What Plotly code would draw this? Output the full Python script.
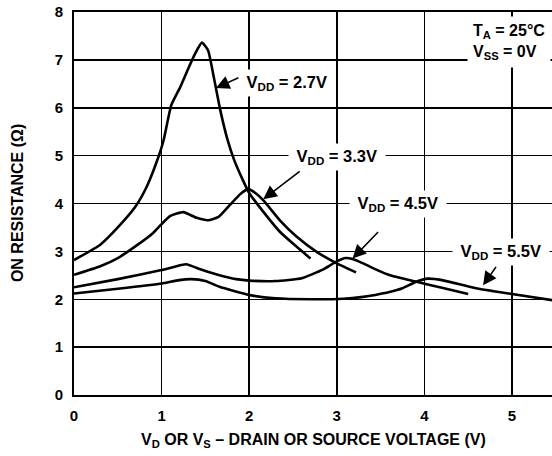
import plotly.graph_objects as go

# ---- data ----
x_27 = [0, 0.3, 0.5, 0.7, 0.83, 0.94, 1.02, 1.11, 1.21, 1.3, 1.38, 1.46, 1.53, 1.6, 1.67, 1.75, 1.83, 1.92, 2.0, 2.16, 2.35, 2.54, 2.7]
y_27 = [2.82, 3.14, 3.5, 3.93, 4.35, 4.85, 5.3, 6.05, 6.42, 6.8, 7.12, 7.36, 7.2, 6.6, 5.95, 5.35, 4.9, 4.52, 4.22, 3.83, 3.41, 3.10, 2.85]

x_33 = [0, 0.3, 0.5, 0.72, 0.9, 1.0, 1.1, 1.25, 1.4, 1.53, 1.65, 1.78, 1.9, 1.99, 2.07, 2.16, 2.35, 2.54, 2.77, 3.0, 3.22]
y_33 = [2.51, 2.69, 2.86, 3.13, 3.38, 3.57, 3.74, 3.82, 3.70, 3.65, 3.72, 3.97, 4.2, 4.30, 4.22, 4.07, 3.65, 3.31, 2.99, 2.75, 2.56]

x_45 = [0, 0.5, 1.0, 1.15, 1.28, 1.45, 1.66, 1.85, 2.0, 2.3, 2.6, 2.84, 3.0, 3.1, 3.18, 3.3, 3.45, 3.61, 3.9, 4.2, 4.5]
y_45 = [2.25, 2.42, 2.61, 2.68, 2.73, 2.62, 2.5, 2.42, 2.39, 2.38, 2.44, 2.62, 2.79, 2.86, 2.84, 2.75, 2.62, 2.50, 2.37, 2.24, 2.11]

x_55 = [0, 0.5, 1.0, 1.2, 1.34, 1.5, 1.66, 2.0, 2.3, 2.7, 3.07, 3.3, 3.44, 3.6, 3.75, 3.9, 4.04, 4.2, 4.59, 5.0, 5.5]
y_55 = [2.12, 2.22, 2.33, 2.4, 2.42, 2.38, 2.26, 2.09, 2.02, 2.0, 2.01, 2.05, 2.09, 2.15, 2.23, 2.36, 2.43, 2.40, 2.23, 2.11, 1.97]

x_ticks = [0, 1, 2, 3, 4, 5]
y_ticks = [0, 1, 2, 3, 4, 5, 6, 7, 8]

FONT = "Liberation Sans"

fig = go.Figure()
for xs, ys in [(x_27, y_27), (x_33, y_33), (x_45, y_45), (x_55, y_55)]:
    fig.add_trace(go.Scatter(x=xs, y=ys, mode="lines",
                             line=dict(color="black", width=2.6, shape="spline", smoothing=0.5),
                             showlegend=False, hoverinfo="skip"))

bold = lambda s: dict(family=FONT, size=s, color="black", weight="bold")

labels = [
    (" V<sub>DD</sub> = 2.7V ", 2.43, 6.52),
    (" V<sub>DD</sub> = 3.3V ", 3.0, 4.98),
    (" V<sub>DD</sub> = 4.5V ", 3.70, 3.98),
    (" V<sub>DD</sub> = 5.5V ", 4.87, 2.98),
]
anns = []
for t, xx, yy in labels:
    anns.append(dict(x=xx, y=yy, text=t, showarrow=False, bgcolor="white",
                     borderpad=3, font=bold(16.5), xanchor="center", yanchor="middle"))

arrows = [
    (1.62, 6.41, 24, -11),
    (2.16, 4.09, 38, -29),
    (3.18, 2.85, 27, -28),
    (4.67, 2.29, 14, -20),
]
for xx, yy, ax, ay in arrows:
    anns.append(dict(x=xx, y=yy, ax=ax, ay=ay, axref="pixel", ayref="pixel", text="",
                     showarrow=True, arrowhead=2, arrowsize=1.7, arrowwidth=1.6,
                     arrowcolor="black", standoff=0, startstandoff=0))

anns.append(dict(x=0.997, y=0.99, xref="paper", yref="paper", xanchor="right", yanchor="top",
                 align="left", text="T<sub>A</sub> = 25°C<br>V<sub>SS</sub> = 0V",
                 showarrow=False, bgcolor="white", borderpad=5, font=bold(16)))

# axis titles as paper annotations
anns.append(dict(x=0.5, y=-0.12, xref="paper", yref="paper", xanchor="center", yanchor="middle",
                 text="V<sub>D</sub> OR V<sub>S</sub> – DRAIN OR SOURCE VOLTAGE (V)",
                 showarrow=False, font=bold(16)))
anns.append(dict(x=-0.118, y=0.5, xref="paper", yref="paper", xanchor="center", yanchor="middle",
                 text="ON RESISTANCE (Ω)", textangle=-90, showarrow=False, font=bold(16)))

axis_common = dict(showgrid=True, gridcolor="black", gridwidth=1.5,
                   showline=True, linecolor="black", linewidth=2,
                   zeroline=False, ticks="", ticklabelstandoff=6, automargin=False,
                   tickfont=bold(15), tickmode="array")

fig.update_layout(
    template="none",
    width=552, height=456,
    margin=dict(l=74, r=0, t=12, b=61, autoexpand=False),
    paper_bgcolor="white", plot_bgcolor="white",
    font=dict(family=FONT, color="black"),
    annotations=anns,
    xaxis=dict(range=[0, 5.457], tickvals=x_ticks, ticktext=[str(v) for v in x_ticks],
               mirror=True, **axis_common),
    yaxis=dict(range=[0, 8], tickvals=y_ticks, ticktext=[str(v) for v in y_ticks],
               mirror=False, **axis_common),
)

fig.write_html("out.html", config={"displayModeBar": False, "staticPlot": True},
               post_script="document.body.style.margin='0';document.body.style.padding='0';")
